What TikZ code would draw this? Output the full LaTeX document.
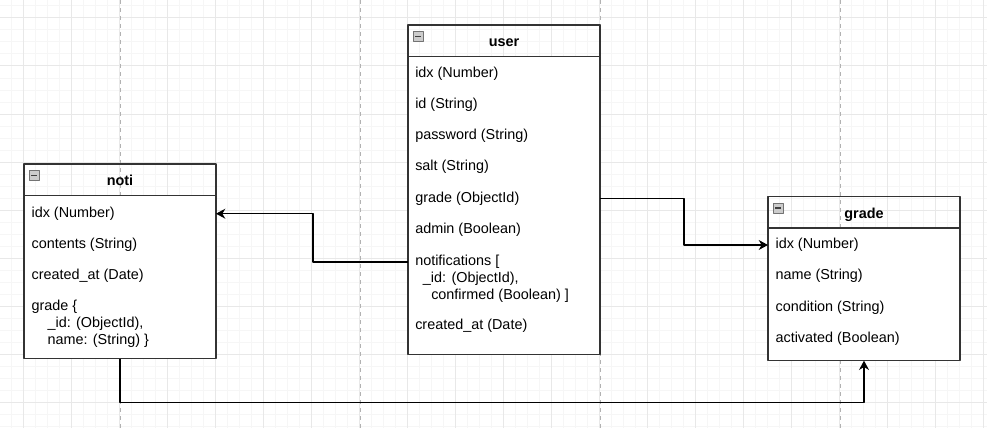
\documentclass[tikz,border=0pt]{standalone}
\usepackage{fontspec}
\setmainfont{Liberation Sans}
\usetikzlibrary{arrows.meta,calc}

\tikzset{
	tablehead/.style={draw=black!80, line width=0.9pt, minimum width=144pt, minimum height=23.4pt, inner sep=0pt, outer sep=0pt, anchor=north west,
		font=\fontsize{10.8}{13}\bfseries, text height=1.15em, text depth=0.2em},
	tablebody/.style={draw=black!80, fill=white, line width=0.9pt, minimum width=144pt, inner sep=0pt, outer sep=0pt, anchor=north},
	field/.style={anchor=west, inner sep=0pt, font=\fontsize{10.8}{13}\selectfont, text height=0.75em, text depth=0.2em},
	collapsebtn/.style={draw=black!55, fill=black!20, minimum size=7.5pt, inner sep=0pt, anchor=north west,
		path picture={\draw[line width=1pt, black!75] ($(path picture bounding box.west)+(1.5pt,0)$) -- ($(path picture bounding box.east)+(-1.5pt,0)$);}},
	minorline/.style={black!3.5, line width=0.75pt},
	majorline/.style={black!9, line width=0.75pt},
	pageline/.style={black!30, line width=0.75pt, dash pattern=on 3pt off 3pt},
	link/.style={->, line width=0.9pt},
}

\begin{document}
\begin{tikzpicture}[x=0.75pt, y=-0.75pt, >={Stealth[length=7pt,width=7.5pt]}, line join=round]
	\useasboundingbox (0,0) rectangle (987,428);
	
	% Lưới nền
	\foreach \gx in {11,23,...,983} \draw[minorline] (\gx,0)--(\gx,428);
	\foreach \gy in {6,18,...,426} \draw[minorline] (0,\gy)--(987,\gy);
	\foreach \gx in {23,71,...,983} \draw[majorline] (\gx,0)--(\gx,428);
	\foreach \gy in {18,66,...,426} \draw[majorline] (0,\gy)--(987,\gy);
	\foreach \gx in {120,360,600,840} \draw[pageline] (\gx,0)--(\gx,428);
	
	% user
	\node[tablehead] (user) at (408,25) {user};
	\node[tablebody, minimum height=223.6pt] (ubody) at (user.south) {};
	\node[collapsebtn] (ubtn) at ($(user.north west)+(5,6)$) {};
	\foreach \name/\txt [count=\i] in {uidx/idx (Number), uid/id (String), upass/password (String), usalt/salt (String), ugrade/grade (ObjectId), uadmin/admin (Boolean)}
		\node[field] (\name) at (415,42.5+31.2*\i) {\txt};
	\node[field] (unoti) at (415,262) {notifications [};
	\node[field] (unotiid) at (422.7,278.5) {\_id: (ObjectId),};
	\node[field] (unoticonf) at (431,295.8) {confirmed (Boolean) ]};
	\node[field] (ucreated) at (415,326) {created\_at (Date)};
	
	% noti
	\node[tablehead] (noti) at (24,164) {noti};
	\node[tablebody, minimum height=122.6pt] (nbody) at (noti.south) {};
	\node[collapsebtn] (nbtn) at ($(noti.north west)+(5,6)$) {};
	\foreach \name/\txt [count=\i] in {nidx/idx (Number), ncontents/contents (String), ncreated/created\_at (Date)}
		\node[field] (\name) at (31.3,182.5+31.2*\i) {\txt};
	\node[field] (ngrade) at (31.3,307.2) {grade \{};
	\node[field] (ngid) at (47.3,324.3) {\_id: (ObjectId),};
	\node[field] (ngname) at (47.3,341) {name: (String) \}};
	
	% grade
	\node[tablehead] (grade) at (768,196.8) {grade};
	\node[tablebody, minimum height=99.5pt] (gbody) at (grade.south) {};
	\node[collapsebtn] (gbtn) at ($(grade.north west)+(5,6)$) {};
	\foreach \name/\txt [count=\i] in {gidx/idx (Number), gname/name (String), gcond/condition (String), gact/activated (Boolean)}
		\node[field] (\name) at (775.3,213.8+31.2*\i) {\txt};
	
	% Liên kết
	\draw[link] (ugrade -| ubody.east) -- ++(84,0) |- (gidx -| gbody.west);
	\draw[link] (unoti -| ubody.west) -- ++(-95,0) |- (nidx -| nbody.east);
	\draw[link] (nbody.south) -- ++(0,44) -| (gbody.south);
\end{tikzpicture}
\end{document}
